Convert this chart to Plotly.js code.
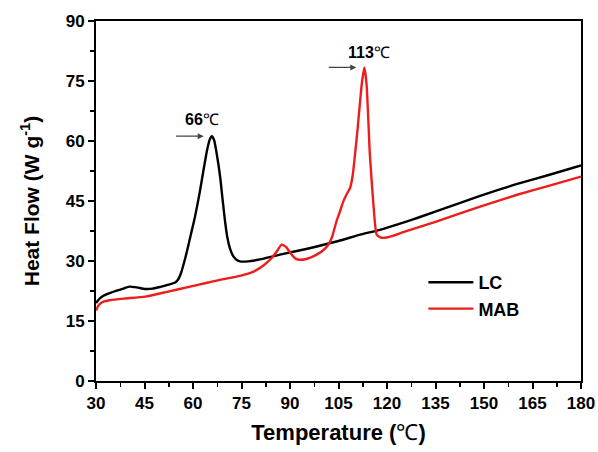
<!DOCTYPE html>
<html><head><meta charset="utf-8">
<script src="https://cdn.plot.ly/plotly-3.0.1.min.js"></script>
<style>body{margin:0;background:#fff}#c{width:598px;height:452px}</style>
</head><body><div id="c"></div>
<script>
const LC_T = [30, 31, 32.3, 34, 36.4, 38.5, 40.3, 42.6, 45.2, 47.5, 49.8, 52, 54.5, 55.5, 56.3, 57.2, 58, 59.3, 60.6, 62, 63.2, 64.3, 65.2, 65.8, 66.5, 67.3, 68.4, 69.2, 69.9, 70.6, 71.4, 72.3, 73.3, 74.5, 77, 80.7, 86.9, 95, 105, 111.7, 117.8, 125, 130.2, 140, 148.8, 160, 170, 180];
const LC_Y = [19.5, 20.5, 21.3, 21.9, 22.6, 23.1, 23.6, 23.4, 23.0, 23.1, 23.5, 24.0, 24.6, 25.5, 27.0, 29.5, 32.0, 36.5, 41.0, 46.8, 52.5, 57.5, 60.4, 61.2, 60.3, 57.0, 51.0, 45.0, 40.0, 36.0, 33.2, 31.4, 30.4, 29.9, 29.9, 30.4, 31.6, 33.0, 35.0, 36.6, 37.8, 39.6, 41.0, 43.8, 46.3, 49.2, 51.5, 53.9];
const MAB_T = [30, 30.5, 31.2, 32.5, 34.3, 38.5, 45.2, 52, 59.1, 64, 68.4, 74.5, 78.6, 82, 84.4, 86, 87.4, 88.8, 90.3, 91.7, 93.1, 95, 97.5, 100, 101.8, 103, 104.4, 105.5, 106.5, 107.6, 108.6, 109.4, 110.1, 110.9, 111.6, 112.3, 113.0, 113.7, 114.7, 115.8, 116.8, 118, 119.2, 121, 125, 135, 148.8, 160, 170, 180];
const MAB_Y = [17.6, 18.5, 19.3, 19.9, 20.2, 20.6, 21.1, 22.3, 23.6, 24.5, 25.3, 26.3, 27.3, 29.0, 30.8, 32.5, 34.1, 33.5, 31.8, 30.6, 30.3, 30.5, 31.3, 32.5, 34.0, 36.0, 40.0, 42.5, 44.9, 46.8, 48.3, 51.5, 56.6, 63.0, 69.2, 75.0, 78.4, 74.0, 56.6, 44.1, 36.6, 35.9, 35.8, 36.1, 37.2, 39.8, 43.6, 46.5, 48.8, 51.1];
const SERIES = ["LC", "MAB"];
const COLORS = ["#000000", "#ee1c1c"];
const PEAK_LABELS = ["66", "113"];
const X_TICKS = [30, 45, 60, 75, 90, 105, 120, 135, 150, 165, 180];
const Y_TICKS = [0, 15, 30, 45, 60, 75, 90];

const F = "Liberation Sans, Arial, sans-serif";
const traces = [
  {x: LC_T, y: LC_Y, name: SERIES[0], mode: "lines", line: {color: COLORS[0], width: 2.4, shape: "spline", smoothing: 0.5}},
  {x: MAB_T, y: MAB_Y, name: SERIES[1], mode: "lines", line: {color: COLORS[1], width: 2.4, shape: "spline", smoothing: 0.5}}
];
function peak(T, Y) { let i = Y.indexOf(Math.max(...Y)); return [T[i], Y[i]]; }
const p1 = peak(LC_T, LC_Y), p2 = peak(MAB_T, MAB_Y);
const ann = [];
[[p1, PEAK_LABELS[0], -3.0, 4.2], [p2, PEAK_LABELS[1], 1.4, 3.8]].forEach(([p, lab, dx, dy]) => {
  ann.push({x: p[0] - 2.5, y: p[1], xref: "x", yref: "y", ax: p[0] - 11.5, ay: p[1], axref: "x", ayref: "y",
    showarrow: true, arrowhead: 2, arrowsize: 1, arrowwidth: 1.2, arrowcolor: "#444", text: ""});
  ann.push({x: p[0] + dx, y: p[1] + dy, xref: "x", yref: "y", showarrow: false,
    text: "<b>" + lab + "</b>℃", font: {family: F, size: 16, color: "#000"}});
});
const axBase = {showline: true, linecolor: "#000", linewidth: 2, mirror: true, ticks: "outside", ticklen: 6, tickwidth: 2, tickcolor: "#000",
  showgrid: false, zeroline: false, tickfont: {family: F, size: 17, color: "#000", weight: "bold"}};
const layout = {
  width: 598, height: 452, margin: {l: 96, r: 17, t: 21, b: 71},
  paper_bgcolor: "#fff", plot_bgcolor: "#fff",
  xaxis: Object.assign({}, axBase, {range: [30, 180], tickvals: X_TICKS, ticktext: X_TICKS.map(String),
    minor: {dtick: 7.5, tick0: 30, ticks: "outside", ticklen: 4, tickwidth: 1.5, tickcolor: "#000"},
    title: {text: "<b>Temperature (</b>℃<b>)</b>", font: {family: F, size: 22, color: "#000"}, standoff: 12}}),
  yaxis: Object.assign({}, axBase, {range: [0, 90], tickvals: Y_TICKS, ticktext: Y_TICKS.map(String),
    minor: {dtick: 7.5, tick0: 0, ticks: "outside", ticklen: 4, tickwidth: 1.5, tickcolor: "#000"},
    title: {text: "<b>Heat Flow (W g<sup>-1</sup>)</b>", font: {family: F, size: 21, color: "#000"}, standoff: 20}}),
  showlegend: true,
  legend: {x: 0.675, y: 0.325, xanchor: "left", yanchor: "top", itemwidth: 45, bgcolor: "rgba(0,0,0,0)", font: {family: F, size: 18, color: "#000", weight: "bold"}, tracegroupgap: 4},
  annotations: ann
};
Plotly.newPlot("c", traces, layout, {staticPlot: true, displayModeBar: false});
</script></body></html>
